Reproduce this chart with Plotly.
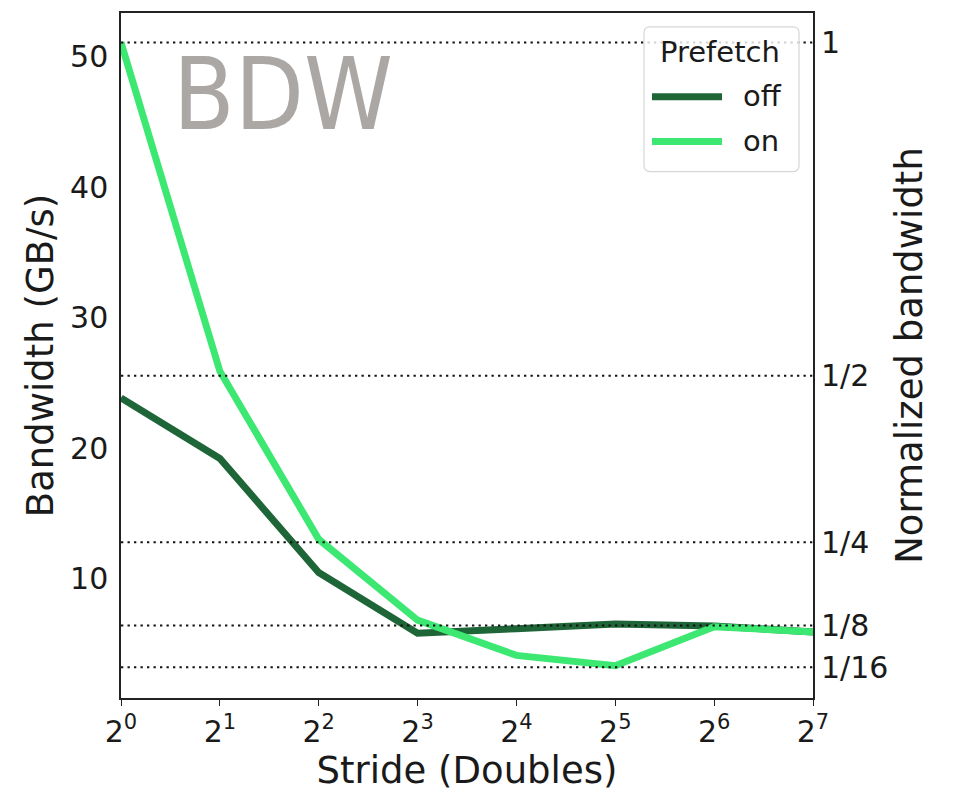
import plotly.graph_objects as go

# ---------------- data ----------------
strides = [1, 2, 4, 8, 16, 32, 64, 128]
tick_text = ["2<sup>0</sup>", "2<sup>1</sup>", "2<sup>2</sup>", "2<sup>3</sup>",
             "2<sup>4</sup>", "2<sup>5</sup>", "2<sup>6</sup>", "2<sup>7</sup>"]
bw_off = [23.85, 19.2, 10.45, 5.8, 6.15, 6.5, 6.35, 5.9]
bw_on = [51.1, 25.9, 13.0, 6.8, 4.1, 3.3, 6.3, 5.9]
series_names = ["off", "on"]
legend_title = "Prefetch"
left_ticks = [10, 20, 30, 40, 50]
norm_levels = [1/16, 1/8, 1/4, 1/2, 1]
norm_labels = ["1/16", "1/8", "1/4", "1/2", "1"]
peak = bw_on[0]
y_range = [0.83, 53.37]

# ---------------- styling ----------------
W, H = 957, 796
ML, MR, MT, MB = 121, 144, 11, 98
PW, PH = W - ML - MR, H - MT - MB
C_OFF = "#1e6637"
C_ON = "#3de872"
FONT = "DejaVu Sans"
TXT = "#1a1a1a"


def px(x):
    return (x - ML) / PW


def py(y):
    return (H - MB - y) / PH


fig = go.Figure()
fig.add_trace(go.Scatter(x=strides, y=bw_off, mode="lines", name=series_names[0],
                         line=dict(color=C_OFF, width=7), showlegend=False))
fig.add_trace(go.Scatter(x=strides, y=bw_on, mode="lines", name=series_names[1],
                         line=dict(color=C_ON, width=7), showlegend=False))
# invisible trace to activate right axis
fig.add_trace(go.Scatter(x=[strides[0]], y=[norm_levels[-1]], yaxis="y2", mode="markers",
                         marker=dict(opacity=0), showlegend=False, hoverinfo="skip"))

shapes = []
for lv in norm_levels:
    shapes.append(dict(type="line", xref="x domain", x0=0, x1=1, yref="y2", y0=lv, y1=lv,
                       line=dict(color="#111111", width=2, dash="2.3px,4.2px"), layer="above"))

# legend box (rounded)
lx0, lx1, ly0, ly1 = px(644), px(799), py(170), py(25)
rx, ry = 6 / PW, 6 / PH
path = (f"M{lx0+rx},{ly0} L{lx1-rx},{ly0} Q{lx1},{ly0} {lx1},{ly0+ry} "
        f"L{lx1},{ly1-ry} Q{lx1},{ly1} {lx1-rx},{ly1} L{lx0+rx},{ly1} "
        f"Q{lx0},{ly1} {lx0},{ly1-ry} L{lx0},{ly0+ry} Q{lx0},{ly0} {lx0+rx},{ly0} Z")
shapes.append(dict(type="path", xref="paper", yref="paper", path=path,
                   fillcolor="rgba(255,255,255,0.8)", line=dict(color="#d6d6d6", width=1.2),
                   layer="above"))
for yy, col in [(95, C_OFF), (140, C_ON)]:
    shapes.append(dict(type="line", xref="paper", yref="paper", x0=px(652), x1=px(722),
                       y0=py(yy), y1=py(yy), line=dict(color=col, width=7), layer="above"))

annotations = [
    dict(text=legend_title, xref="paper", yref="paper", x=px(720), y=py(50),
         xanchor="center", yanchor="middle", showarrow=False,
         font=dict(family=FONT, size=29, color=TXT)),
    dict(text=series_names[0], xref="paper", yref="paper", x=px(741), y=py(94),
         xanchor="left", yanchor="middle", showarrow=False,
         font=dict(family=FONT, size=29, color=TXT)),
    dict(text=series_names[1], xref="paper", yref="paper", x=px(741), y=py(139),
         xanchor="left", yanchor="middle", showarrow=False,
         font=dict(family=FONT, size=29, color=TXT)),
    dict(text="BDW", xref="paper", yref="paper", x=px(283), y=py(93),
         xanchor="center", yanchor="middle", showarrow=False,
         font=dict(family="Liberation Sans Narrow, DejaVu Sans Condensed, sans-serif",
                   size=100, color="#aba7a5")),
]

fig.update_layout(
    width=W, height=H,
    margin=dict(l=ML, r=MR, t=MT, b=MB),
    paper_bgcolor="white", plot_bgcolor="white",
    font=dict(family=FONT, color=TXT),
    showlegend=False,
    shapes=shapes, annotations=annotations,
    xaxis=dict(type="log", range=[0, 2.10721], tickvals=strides, ticktext=tick_text,
               showgrid=False, zeroline=False, showline=True, linecolor="#222", linewidth=1.5,
               mirror=True, ticks="outside", ticklen=6, tickwidth=1.3, tickcolor="#222",
               tickfont=dict(size=30, family=FONT, color=TXT),
               title=dict(text="Stride (Doubles)", font=dict(size=37, family=FONT, color=TXT),
                          standoff=6)),
    yaxis=dict(range=y_range, tickvals=left_ticks, showgrid=False, zeroline=False,
               showline=True, linecolor="#222", linewidth=1.5, mirror=True, ticks="",
               ticklabelstandoff=5,
               tickfont=dict(size=30, family=FONT, color=TXT),
               title=dict(text="Bandwidth (GB/s)", font=dict(size=37, family=FONT, color=TXT),
                          standoff=5)),
    yaxis2=dict(overlaying="y", side="right", range=[y_range[0] / peak, y_range[1] / peak],
                tickvals=norm_levels, ticktext=norm_labels, showgrid=False, zeroline=False,
                showline=False, ticks="", ticklabelstandoff=7,
                tickfont=dict(size=30, family=FONT, color=TXT),
                title=dict(text="Normalized bandwidth", font=dict(size=37, family=FONT, color=TXT),
                           standoff=8)),
)

fig.write_html("out.html", post_script="document.body.style.margin='0';",
               config={"displayModeBar": False})
